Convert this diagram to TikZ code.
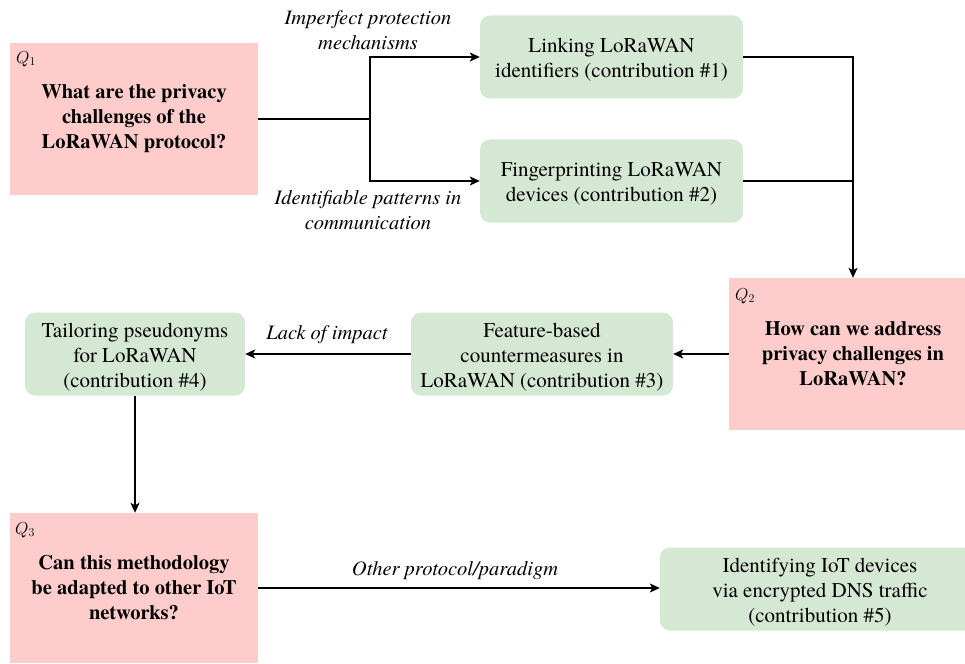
\documentclass[tikz,border=0pt]{standalone}
\usepackage{fontspec}
\setmainfont{texgyretermes}[Extension=.otf, UprightFont=*-regular, BoldFont=*-bold,
  ItalicFont=*-italic, BoldItalicFont=*-bolditalic]
\usetikzlibrary{arrows.meta}
\definecolor{qfill}{HTML}{FFCCCC}
\definecolor{cfill}{HTML}{D5E8D4}
% extra head room on the first line of a contribution box
\newcommand{\toproom}{\rule{0pt}{20.5pt}}

\begin{document}
\begin{tikzpicture}[x=1pt,y=-1pt,
  question/.style={fill=qfill, draw=none, minimum width=248pt, minimum height=152pt,
    align=center, inner sep=0pt, font=\fontsize{20.5}{25}\selectfont\bfseries},
  contrib/.style={fill=cfill, draw=none, rounded corners=10pt, minimum width=263pt,
    minimum height=83pt, align=center, inner sep=0pt, font=\fontsize{21}{25}\selectfont},
  qtag/.style={inner sep=0pt, font=\fontsize{17}{20}\selectfont},
  why/.style={inner sep=0pt, align=center, font=\fontsize{20.5}{25}\selectfont\itshape},
  link/.style={line width=1.3pt},
  arr/.style={link, -{Stealth[length=10pt,width=9pt,inset=2.5pt]}}]

\useasboundingbox (0,0) rectangle (965,663);
\clip (0,0) rectangle (965,663);

% research questions
\node[question] (q1) at (134,119) {What are the privacy\\challenges of the\\LoRaWAN protocol?};
\node[question] (q2) at (853,354) {How can we address\\privacy challenges in\\LoRaWAN?};
\node[question, minimum height=150pt] (q3) at (134,588) {Can this methodology\\be adapted to other IoT\\networks?};
\node[qtag] (t1) at (26,59) {$Q_1$};
\node[qtag] (t2) at (745,296) {$Q_2$};
\node[qtag] (t3) at (25,530) {$Q_3$};

% contributions
\node[contrib] (c1) at (611.5,57) {\toproom Linking LoRaWAN\\identifiers (contribution \#1)};
\node[contrib] (c2) at (611.5,181) {\toproom Fingerprinting LoRaWAN\\devices (contribution \#2)};
\node[contrib, minimum width=262pt] (c3) at (542,354) {\toproom Feature-based\\countermeasures in\\LoRaWAN (contribution \#3)};
\node[contrib, minimum width=220pt] (c4) at (135,354) {\toproom Tailoring pseudonyms\\for LoRaWAN\\(contribution \#4)};
\node[contrib, minimum width=320pt] (c5) at (820,589) {\toproom Identifying IoT devices\\via encrypted DNS traffic\\(contribution \#5)};

% Q1 splits into the first two contributions
\coordinate (split) at (370,119);
\draw[link] (q1.east) -- (split);
\draw[arr] (split) |- (c1.west);
\draw[arr] (split) |- (c2.west);
\node[why] (w1) at (368,30.5) {Imperfect protection\\mechanisms};
\node[why] (w2) at (368,210) {Identifiable patterns in\\communication};

% both contributions lead to Q2
\coordinate (join) at (853,181);
\draw[link] (c1.east) -| (join);
\draw[link] (c2.east) -- (join);
\draw[arr] (join) -- (join |- q2.north);

% Q2 to the countermeasures
\draw[arr] (q2.west) -- (c3.east);
\draw[arr] (c3.west) -- (c4.east);
\node[why] (w3) at (327,335) {Lack of impact};

% pseudonyms to Q3
\draw[arr] (c4.south) -- (c4.south |- q3.north);

% Q3 to the DNS work
\draw[arr] (q3.east) -- (q3.east -| c5.west);
\node[why] (w4) at (455,570.5) {Other protocol/paradigm};
\end{tikzpicture}
\end{document}
